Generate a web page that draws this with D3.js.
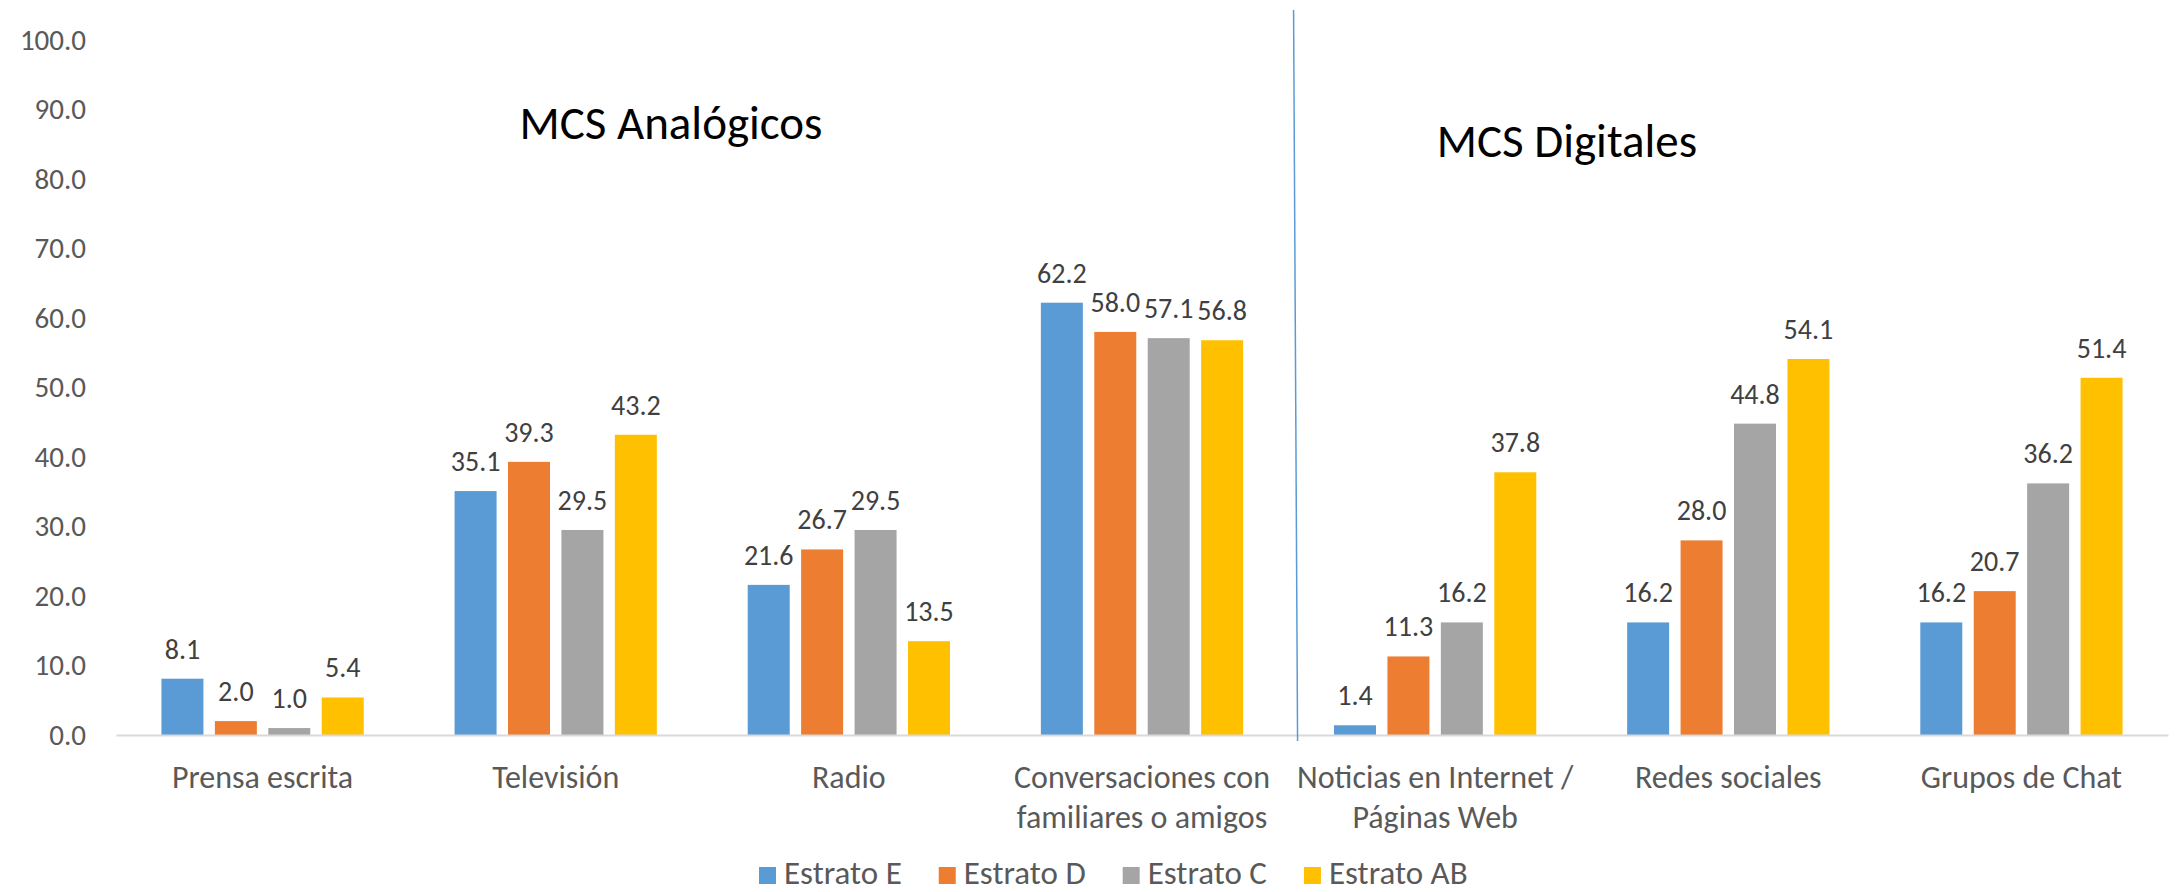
<!DOCTYPE html>
<html>
<head>
<meta charset="utf-8">
<script src="https://cdn.jsdelivr.net/npm/d3@7"></script>
<style>
  html, body { margin: 0; padding: 0; background: #ffffff; }
  svg { display: block; }
  text { font-family: Carlito, Calibri, Lato, sans-serif; }
</style>
</head>
<body>
<svg id="chart" width="2176" height="892"></svg>
<script>
// Media categories (x axis), two-line labels split with "\n"
const categories = [
  "Prensa escrita",
  "Televisión",
  "Radio",
  "Conversaciones con\nfamiliares o amigos",
  "Noticias en Internet /\nPáginas Web",
  "Redes sociales",
  "Grupos de Chat"
];

// Socio-economic strata (series)
const seriesNames = ["Estrato E", "Estrato D", "Estrato C", "Estrato AB"];
const seriesColors = ["#5B9BD5", "#ED7D31", "#A5A5A5", "#FFC000"];

// Percentages per stratum, one value per category
const estratoE  = [8.1, 35.1, 21.6, 62.2, 1.4, 16.2, 16.2];
const estratoD  = [2.0, 39.3, 26.7, 58.0, 11.3, 28.0, 20.7];
const estratoC  = [1.0, 29.5, 29.5, 57.1, 16.2, 44.8, 36.2];
const estratoAB = [5.4, 43.2, 13.5, 56.8, 37.8, 54.1, 51.4];
const seriesValues = [estratoE, estratoD, estratoC, estratoAB];

// Y axis ticks
const yTicks = [0, 10, 20, 30, 40, 50, 60, 70, 80, 90, 100];

// Section headings
const sectionTitles = ["MCS Analógicos", "MCS Digitales"];

const svg = d3.select("#chart");

const plot = { left: 116, right: 2168, top: 40, bottom: 735 };

const x0 = d3.scaleBand()
  .domain(categories)
  .range([plot.left, plot.right])
  .paddingInner(0.31)
  .paddingOuter(0.155);

const x1 = d3.scaleBand()
  .domain(seriesNames)
  .range([0, x0.bandwidth()])
  .paddingInner(0.214);

const y = d3.scaleLinear()
  .domain([0, 100])
  .range([plot.bottom, plot.top]);

const fmt = d3.format(".1f");
const FS_TICK = 29;
const FS_VAL = 28;
const FS_CAT = 32;
const FS_LEG = 33;
const FS_TITLE = 47;

// Y axis labels (no axis line, no gridlines)
const yAxis = d3.axisLeft(y).tickValues(yTicks).tickFormat(fmt).tickSize(0).tickPadding(0);
const yG = svg.append("g").attr("transform", "translate(86,0)").call(yAxis);
yG.select(".domain").remove();
yG.selectAll("text")
  .attr("fill", "#595959")
  .style("font-family", "Carlito, Calibri, Lato, sans-serif")
  .style("font-size", FS_TICK + "px");

// Bars
const rows = categories.map((c, i) => ({ cat: c, vals: seriesNames.map((s, k) => ({ s, k, v: seriesValues[k][i] })) }));

const groups = svg.append("g").selectAll("g")
  .data(rows)
  .join("g")
  .attr("transform", d => `translate(${x0(d.cat)},0)`);

groups.selectAll("rect")
  .data(d => d.vals)
  .join("rect")
  .attr("x", d => x1(d.s))
  .attr("y", d => y(d.v))
  .attr("width", x1.bandwidth())
  .attr("height", d => y(0) - y(d.v))
  .attr("fill", d => seriesColors[d.k]);

// Value labels above bars
groups.selectAll("text.val")
  .data(d => d.vals)
  .join("text")
  .attr("class", "val")
  .attr("x", d => x1(d.s) + x1.bandwidth() / 2)
  .attr("y", d => y(d.v) - 20)
  .attr("text-anchor", "middle")
  .attr("fill", "#404040")
  .style("font-size", FS_VAL + "px")
  .text(d => fmt(d.v));

// X axis baseline
const xAxis = d3.axisBottom(x0).tickSize(0).tickFormat("");
const xG = svg.append("g").attr("transform", `translate(0,${plot.bottom})`).call(xAxis);
xG.select(".domain").attr("stroke", "#D9D9D9").attr("stroke-width", 2);

// Category labels (wrapped)
const catLabels = svg.append("g").selectAll("text")
  .data(categories)
  .join("text")
  .attr("x", d => x0(d) + x0.bandwidth() / 2)
  .attr("y", 788)
  .attr("text-anchor", "middle")
  .attr("fill", "#595959")
  .style("font-size", FS_CAT + "px");
catLabels.each(function(d) {
  const lines = d.split("\n");
  d3.select(this).selectAll("tspan")
    .data(lines)
    .join("tspan")
    .attr("x", x0(d) + x0.bandwidth() / 2)
    .attr("dy", (l, i) => i === 0 ? 0 : 40)
    .text(l => l);
});

// Divider between analog and digital media
const divX = (x0(categories[3]) + x0.bandwidth() + x0(categories[4])) / 2;
svg.append("line")
  .attr("x1", divX + 5).attr("y1", 10)
  .attr("x2", divX + 9).attr("y2", 741)
  .attr("stroke", "#5B9BD5")
  .attr("stroke-width", 1.5);

// Section headings
svg.append("text")
  .attr("x", 671).attr("y", 139)
  .attr("text-anchor", "middle")
  .attr("fill", "#000000")
  .style("font-size", FS_TITLE + "px")
  .text(sectionTitles[0]);
svg.append("text")
  .attr("x", 1567).attr("y", 157)
  .attr("text-anchor", "middle")
  .attr("fill", "#000000")
  .style("font-size", FS_TITLE + "px")
  .text(sectionTitles[1]);

// Legend
const legend = svg.append("g");
let lx = 759;
seriesNames.forEach((name, k) => {
  legend.append("rect")
    .attr("x", lx).attr("y", 867)
    .attr("width", 17).attr("height", 17)
    .attr("fill", seriesColors[k]);
  const t = legend.append("text")
    .attr("x", lx + 25).attr("y", 884)
    .attr("fill", "#595959")
    .style("font-size", FS_LEG + "px")
    .text(name);
  lx += 25 + t.node().getComputedTextLength() + 37;
});
</script>
</body>
</html>
